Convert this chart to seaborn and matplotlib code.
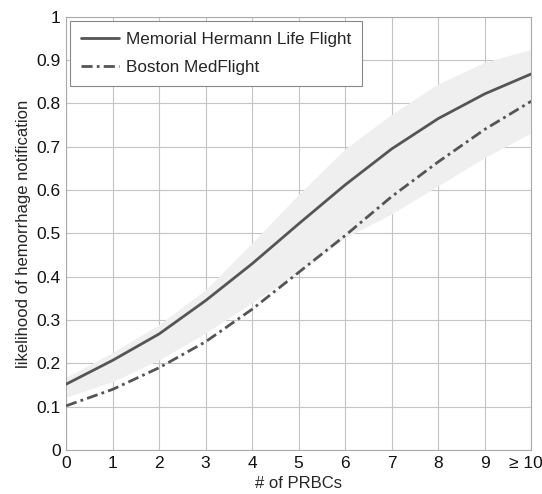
import numpy as np
import pandas as pd
import matplotlib.pyplot as plt
import matplotlib.transforms as mtransforms
import seaborn as sns

# values
prbcs = [0, 1, 2, 3, 4, 5, 6, 7, 8, 9, 10]
x_labels = ['0', '1', '2', '3', '4', '5', '6', '7', '8', '9', '\u2265 10']
memorial = [0.152, 0.207, 0.268, 0.345, 0.430, 0.522, 0.612, 0.695, 0.765, 0.822, 0.868]
boston = [0.102, 0.140, 0.190, 0.250, 0.325, 0.410, 0.495, 0.585, 0.665, 0.740, 0.805]
band_upper = [0.168, 0.225, 0.290, 0.370, 0.478, 0.590, 0.695, 0.775, 0.845, 0.895, 0.925]
band_lower = [0.122, 0.158, 0.208, 0.270, 0.340, 0.410, 0.490, 0.545, 0.610, 0.675, 0.732]

df = pd.DataFrame({'prbcs': prbcs, 'memorial': memorial, 'boston': boston})

sns.set_style('whitegrid')
plt.rcParams['font.family'] = ['Liberation Sans', 'DejaVu Sans']

fig = plt.figure(figsize=(5.42, 4.94), dpi=100)
ax = fig.add_axes([0.122, 0.089, 0.858, 0.877])

# grid under the band
ax.set_axisbelow(True)
ax.grid(True, color='#c4c4c4', linewidth=0.8)

ax.fill_between(prbcs, band_lower, band_upper, color='#efefef', linewidth=0, zorder=1.5)

sns.lineplot(data=df, x='prbcs', y='memorial', ax=ax, color='#555555', linewidth=2,
             label='Memorial Hermann Life Flight', zorder=3)
sns.lineplot(data=df, x='prbcs', y='boston', ax=ax, color='#555555', linewidth=2,
             linestyle=(0, (4, 1.5, 1, 1.5)), label='Boston MedFlight', zorder=3)

ax.set_xlim(0, 10)
ax.set_ylim(0, 1)
ax.set_xticks(prbcs)
ax.set_xticklabels(x_labels)
ax.set_yticks(np.arange(0, 1.01, 0.1))
ax.set_yticklabels(['0', '0.1', '0.2', '0.3', '0.4', '0.5', '0.6', '0.7', '0.8', '0.9', '1'])
ax.tick_params(labelsize=12.5, length=0, pad=4, colors='#111111')
ax.set_xlabel('# of PRBCs', fontsize=12, labelpad=4)
ax.set_ylabel('likelihood of hemorrhage notification', fontsize=12, labelpad=4)

# last x label sits a bit left so it stays inside the figure
last = ax.get_xticklabels()[-1]
last.set_transform(last.get_transform() + mtransforms.ScaledTranslation(-5 / 100, 0, fig.dpi_scale_trans))

for sp in ax.spines.values():
    sp.set_color('#aaaaaa')
    sp.set_linewidth(0.8)

leg = ax.legend(loc='upper left', fontsize=12.3, frameon=True, fancybox=False,
                borderaxespad=0.25, handlelength=2.2, handletextpad=0.4,
                borderpad=0.65, labelspacing=0.75)
leg.get_frame().set_edgecolor('#888888')
leg.get_frame().set_linewidth(0.8)
leg.get_frame().set_alpha(1)

fig.savefig('out.png', dpi=100)
